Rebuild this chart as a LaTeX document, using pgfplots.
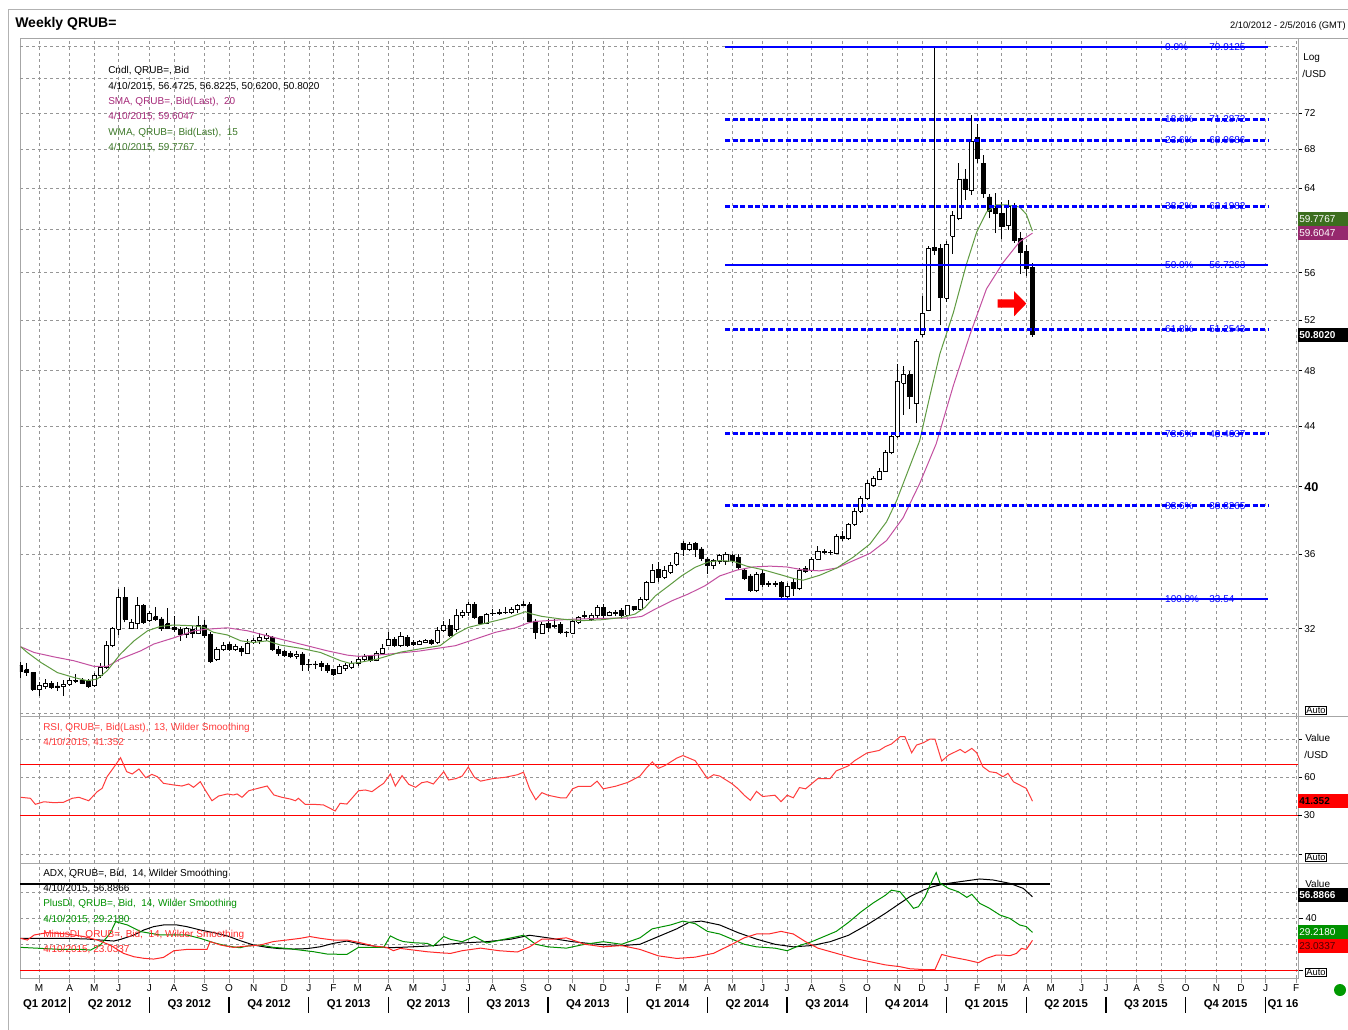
\documentclass[border=0pt]{standalone}
\usepackage{fontspec}
\setmainfont{Liberation Sans}
\usepackage{pgfplots}
\pgfplotsset{compat=1.18}
\definecolor{gridc}{RGB}{150,150,150}
\definecolor{smac}{RGB}{195,80,160}
\definecolor{smat}{RGB}{165,40,120}
\definecolor{smabox}{RGB}{150,40,110}
\definecolor{wmac}{RGB}{95,155,65}
\definecolor{wmat}{RGB}{60,120,40}
\definecolor{wmabox}{RGB}{60,110,30}
\definecolor{fibc}{RGB}{0,0,255}
\definecolor{rsic}{RGB}{255,60,60}
\definecolor{rline}{RGB}{255,0,0}
\definecolor{pdic}{RGB}{0,145,0}
\definecolor{mdic}{RGB}{255,40,40}
\newcommand{\lf}{\fontsize{7.5}{9}\selectfont}
\newcommand{\candle}[5]{%
  \pgfmathsetmacro\cxa{#1-0.33}%
  \pgfmathsetmacro\cxb{#1+0.33}%
  \addplot[black, line width=0.6pt, forget plot] coordinates {(#1,#4) (#1,#3)};%
  \ifdim #5pt<#2pt
    \addplot[draw=black, fill=black, line width=0.5pt, forget plot] coordinates {(\cxa,#2) (\cxb,#2) (\cxb,#5) (\cxa,#5) (\cxa,#2)};%
  \else
    \addplot[draw=black, fill=white, line width=0.5pt, forget plot] coordinates {(\cxa,#2) (\cxb,#2) (\cxb,#5) (\cxa,#5) (\cxa,#2)};%
  \fi
}
\pgfplotsset{
  panel/.style={scale only axis, width=958.5pt, xmin=-0.1, xmax=208.3,
    xtick={3,8,12,16,21,25,30,34,38,43,47,51,55,60,64,69,73,77,82,86,90,95,99,104,108,112,116,121,125,129,134,138,143,147,151,156,160,164,168,173,177,182,186,190,195,199,203,208},
    xmajorgrids, ymajorgrids,
    grid style={gridc, dash pattern=on 2.25pt off 2.25pt, line width=0.5pt},
    axis line style={draw=gray!70, line width=0.6pt},
    ytick pos=right, yticklabel pos=right, tick align=outside,
    major tick length=3pt,
    ytick style={black, line width=0.5pt},
    tick label style={font=\lf, black},
    yticklabel style={inner xsep=1.5pt},
  },
  nox/.style={xtick style={draw=none}, xticklabels={}},
}
\begin{document}
\begin{tikzpicture}
\path[use as bounding box] (0,0) rectangle (1011pt,-772.5pt);
\fill[white] (0,0) rectangle (1011pt,-772.5pt);

% ================= MAIN PRICE PANEL =================
\begin{axis}[panel, nox, at={(15pt,-28.5pt)}, anchor=north west, height=508.5pt,
  ymode=log, ymin=27.9, ymax=81.0,
  ytick={32,36,40,44,48,52,56,64,68,72},
  yticklabels={32,36,{\bfseries\fontsize{9.5}{10}\selectfont 40},44,48,52,56,64,68,72},
  extra y ticks={28,60,76,80}, extra y tick labels={}, extra y tick style={major tick length=0pt}]
\candle{0}{30.22}{30.35}{29.64}{29.95}
\candle{1}{30.00}{30.32}{29.72}{29.87}
\candle{2}{29.87}{29.90}{29.02}{29.10}
\candle{3}{29.10}{29.41}{28.79}{29.28}
\candle{4}{29.25}{29.57}{29.13}{29.38}
\candle{5}{29.36}{29.49}{29.10}{29.17}
\candle{6}{29.25}{29.41}{29.02}{29.17}
\candle{7}{29.22}{29.53}{28.79}{29.33}
\candle{8}{29.33}{29.64}{29.25}{29.52}
\candle{9}{29.47}{29.80}{29.38}{29.52}
\candle{10}{29.53}{29.64}{29.33}{29.38}
\candle{11}{29.44}{29.57}{29.17}{29.25}
\candle{12}{29.28}{29.87}{29.22}{29.75}
\candle{13}{29.72}{30.32}{29.64}{30.14}
\candle{14}{30.14}{31.40}{30.03}{31.16}
\candle{15}{31.16}{32.07}{31.08}{32.02}
\candle{16}{31.98}{34.07}{31.69}{33.62}
\candle{17}{33.62}{34.15}{32.33}{32.50}
\candle{18}{32.04}{32.50}{31.98}{32.33}
\candle{19}{32.30}{33.62}{31.98}{33.18}
\candle{20}{33.18}{33.27}{32.25}{32.33}
\candle{21}{32.41}{32.92}{32.33}{32.80}
\candle{22}{32.61}{33.09}{32.41}{32.50}
\candle{23}{32.50}{32.58}{31.90}{32.02}
\candle{24}{32.25}{33.04}{31.98}{32.02}
\candle{25}{32.07}{32.66}{31.82}{31.95}
\candle{26}{31.98}{32.07}{31.40}{31.73}
\candle{27}{31.73}{32.07}{31.55}{32.02}
\candle{28}{31.98}{32.15}{31.55}{31.78}
\candle{29}{31.78}{32.63}{31.73}{32.15}
\candle{30}{32.19}{32.45}{31.55}{31.65}
\candle{31}{31.73}{31.82}{30.32}{30.38}
\candle{32}{30.52}{31.08}{30.43}{30.96}
\candle{33}{31.00}{31.32}{30.91}{31.19}
\candle{34}{31.24}{31.32}{30.91}{31.00}
\candle{35}{31.00}{31.24}{30.91}{31.12}
\candle{36}{31.04}{31.16}{30.64}{30.87}
\candle{37}{30.80}{31.48}{30.76}{31.27}
\candle{38}{31.32}{31.55}{31.24}{31.40}
\candle{39}{31.40}{31.78}{31.24}{31.55}
\candle{40}{31.50}{31.78}{31.40}{31.65}
\candle{41}{31.59}{31.65}{30.91}{31.00}
\candle{42}{30.96}{31.13}{30.67}{30.80}
\candle{43}{30.87}{30.96}{30.59}{30.70}
\candle{44}{30.80}{30.91}{30.55}{30.64}
\candle{45}{30.64}{30.91}{30.52}{30.76}
\candle{46}{30.76}{30.83}{29.95}{30.27}
\candle{47}{30.27}{30.52}{29.95}{30.28}
\candle{48}{30.28}{30.43}{30.03}{30.26}
\candle{49}{30.32}{30.43}{29.95}{30.16}
\candle{50}{30.22}{30.32}{29.87}{29.98}
\candle{51}{30.00}{30.06}{29.72}{29.80}
\candle{52}{29.84}{30.27}{29.80}{30.16}
\candle{53}{30.06}{30.32}{29.95}{30.19}
\candle{54}{30.12}{30.43}{30.03}{30.32}
\candle{55}{30.30}{30.60}{30.20}{30.50}
\candle{56}{30.50}{30.75}{30.40}{30.62}
\candle{57}{30.62}{30.70}{30.35}{30.45}
\candle{58}{30.45}{30.90}{30.40}{30.80}
\candle{59}{30.80}{31.25}{30.70}{31.05}
\candle{60}{31.16}{31.82}{31.13}{31.48}
\candle{61}{31.48}{31.60}{31.10}{31.16}
\candle{62}{31.16}{31.82}{31.10}{31.62}
\candle{63}{31.57}{31.70}{31.10}{31.19}
\candle{64}{31.32}{31.45}{31.15}{31.24}
\candle{65}{31.24}{31.45}{31.20}{31.35}
\candle{66}{31.32}{31.50}{31.28}{31.43}
\candle{67}{31.40}{31.50}{31.20}{31.29}
\candle{68}{31.32}{32.07}{31.24}{31.90}
\candle{69}{31.90}{32.40}{31.85}{32.18}
\candle{70}{32.18}{32.49}{31.57}{31.65}
\candle{71}{31.98}{33.01}{31.82}{32.69}
\candle{72}{32.69}{32.97}{32.57}{32.83}
\candle{73}{32.83}{33.35}{32.66}{33.26}
\candle{74}{33.26}{33.35}{32.49}{32.57}
\candle{75}{32.61}{32.66}{32.23}{32.29}
\candle{76}{32.29}{32.83}{32.23}{32.74}
\candle{77}{32.78}{33.01}{32.66}{32.80}
\candle{78}{32.80}{33.01}{32.69}{32.83}
\candle{79}{32.83}{33.09}{32.74}{32.86}
\candle{80}{32.83}{33.09}{32.74}{32.97}
\candle{81}{32.97}{33.26}{32.83}{33.21}
\candle{82}{33.21}{33.44}{33.18}{33.23}
\candle{83}{33.23}{33.35}{32.32}{32.40}
\candle{84}{32.40}{32.49}{31.48}{31.82}
\candle{85}{31.79}{32.32}{31.73}{32.23}
\candle{86}{32.29}{32.49}{31.82}{32.06}
\candle{87}{32.13}{32.49}{32.06}{32.15}
\candle{88}{32.23}{32.32}{31.73}{31.82}
\candle{89}{31.84}{31.90}{31.57}{31.82}
\candle{90}{31.77}{32.49}{31.73}{32.40}
\candle{91}{32.32}{32.66}{32.23}{32.57}
\candle{92}{32.64}{32.91}{32.49}{32.66}
\candle{93}{32.49}{32.83}{32.40}{32.71}
\candle{94}{32.66}{33.21}{32.57}{33.09}
\candle{95}{33.09}{33.26}{32.57}{32.69}
\candle{96}{32.69}{32.91}{32.63}{32.86}
\candle{97}{32.81}{32.97}{32.66}{32.83}
\candle{98}{32.95}{33.04}{32.49}{32.66}
\candle{99}{32.69}{33.21}{32.66}{33.18}
\candle{100}{33.14}{33.18}{32.91}{32.97}
\candle{101}{32.97}{33.62}{32.91}{33.53}
\candle{102}{33.53}{34.51}{33.44}{34.42}
\candle{103}{34.42}{35.43}{34.38}{35.10}
\candle{104}{35.12}{35.57}{34.42}{34.69}
\candle{105}{34.69}{35.34}{34.60}{35.06}
\candle{106}{34.97}{35.53}{34.88}{35.38}
\candle{107}{35.43}{36.09}{35.34}{36.03}
\candle{108}{36.62}{36.76}{35.90}{36.28}
\candle{109}{36.28}{36.66}{36.19}{36.56}
\candle{110}{36.62}{36.70}{35.81}{36.28}
\candle{111}{36.28}{36.38}{35.62}{35.76}
\candle{112}{35.72}{35.81}{34.88}{35.34}
\candle{113}{35.34}{35.72}{35.16}{35.62}
\candle{114}{35.58}{36.00}{35.43}{35.90}
\candle{115}{35.56}{36.10}{35.40}{35.97}
\candle{116}{35.93}{36.00}{35.50}{35.62}
\candle{117}{35.82}{36.00}{35.10}{35.22}
\candle{118}{35.11}{35.20}{34.55}{34.64}
\candle{119}{34.77}{34.90}{33.90}{34.02}
\candle{120}{34.02}{35.00}{33.90}{34.85}
\candle{121}{34.90}{35.10}{34.20}{34.31}
\candle{122}{34.32}{34.50}{34.20}{34.36}
\candle{123}{34.36}{34.50}{34.20}{34.33}
\candle{124}{34.42}{34.50}{33.60}{33.67}
\candle{125}{33.67}{34.40}{33.55}{34.20}
\candle{126}{34.40}{34.65}{33.70}{34.10}
\candle{127}{34.12}{35.20}{34.00}{35.11}
\candle{128}{35.20}{35.30}{34.95}{35.05}
\candle{129}{35.11}{35.80}{35.00}{35.71}
\candle{130}{35.71}{36.45}{35.65}{36.12}
\candle{131}{36.10}{36.25}{35.98}{36.13}
\candle{132}{36.08}{36.20}{35.95}{36.06}
\candle{133}{36.05}{37.15}{35.98}{37.02}
\candle{134}{37.02}{37.30}{36.75}{36.90}
\candle{135}{36.90}{37.80}{36.80}{37.72}
\candle{136}{37.72}{38.70}{37.62}{38.50}
\candle{137}{38.50}{39.45}{38.40}{39.30}
\candle{138}{39.30}{40.40}{39.20}{40.20}
\candle{139}{40.10}{40.70}{40.00}{40.55}
\candle{140}{40.50}{41.20}{40.40}{41.00}
\candle{141}{41.00}{42.35}{40.95}{42.20}
\candle{142}{42.20}{43.60}{42.10}{43.30}
\candle{143}{43.30}{48.50}{43.20}{47.20}
\candle{144}{47.10}{48.40}{44.80}{47.70}
\candle{145}{47.70}{48.00}{45.20}{46.10}
\candle{146}{45.60}{50.50}{44.20}{50.28}
\candle{147}{50.86}{54.00}{50.60}{52.51}
\candle{148}{52.80}{58.40}{52.70}{58.20}
\candle{149}{58.30}{79.91}{57.60}{58.00}
\candle{150}{58.20}{58.60}{51.55}{53.90}
\candle{151}{53.80}{58.90}{53.50}{58.60}
\candle{152}{59.30}{61.70}{57.70}{61.30}
\candle{153}{61.00}{66.60}{60.80}{64.90}
\candle{154}{64.90}{65.90}{62.80}{63.90}
\candle{155}{63.80}{71.80}{63.30}{68.90}
\candle{156}{69.30}{70.80}{66.60}{67.05}
\candle{157}{66.50}{67.40}{63.00}{63.40}
\candle{158}{63.10}{63.40}{61.00}{61.70}
\candle{159}{62.00}{63.50}{59.60}{61.50}
\candle{160}{61.50}{62.60}{59.10}{60.25}
\candle{161}{60.30}{62.80}{59.90}{62.20}
\candle{162}{62.20}{62.50}{58.70}{58.95}
\candle{163}{59.10}{59.70}{55.90}{57.80}
\candle{164}{57.90}{58.50}{55.70}{56.40}
\candle{165}{56.4725}{56.8225}{50.62}{50.802}
% SMA 20
\addplot[smac, line width=0.75pt, forget plot] coordinates {(0,31.11)(2.2,30.83)(5.4,30.62)(8.7,30.43)(12,30.16)(14.1,30.16)(16.3,30.52)(19.6,30.91)(21.7,31.24)(25,31.55)(28.3,31.90)(30.4,31.98)(33.7,32.05)(37,31.90)(40.2,31.65)(43.5,31.40)(46.7,31.16)(50,30.91)(53.3,30.70)(55.2,30.64)(60,30.75)(65,30.90)(70.9,31.16)(74.1,31.48)(77.4,31.82)(80.7,32.05)(82.8,32.30)(83.9,32.37)(87.2,32.44)(90.4,32.49)(93.7,32.52)(97,32.54)(99.1,32.54)(101.3,32.63)(103.5,33.01)(106.2,33.44)(108.9,33.80)(111.6,34.24)(114,34.77)(116.8,35.09)(119.5,35.27)(122.2,35.31)(124.9,35.27)(127.6,35.11)(130.3,35.05)(133.1,35.21)(135.8,35.62)(138.5,36.03)(141.2,36.76)(143.9,38.1)(146.6,40.2)(149.3,42.8)(152.1,46.9)(154.8,50.8)(157.5,54.6)(160.2,56.9)(162.9,58.8)(165,59.60)};
% WMA 15
\addplot[wmac, line width=0.75pt, forget plot] coordinates {(0,31.11)(1.1,30.83)(3.3,30.35)(6,29.87)(8.7,29.64)(10.9,29.49)(12.5,29.57)(14.1,29.95)(16.3,30.76)(18.5,31.40)(20.7,31.90)(22.8,32.12)(25,32.19)(28.3,32.15)(29.9,32.07)(31.5,31.82)(33.7,31.69)(35.9,31.40)(38,31.32)(40.2,31.40)(42.4,31.19)(45.7,31.03)(48.9,30.83)(52.2,30.43)(53.8,30.30)(55.2,30.35)(58,30.50)(62,30.85)(65,31.0)(68.4,31.16)(70.9,31.73)(73,32.07)(76.3,32.32)(79.6,32.57)(82.3,32.87)(83.4,32.75)(85,32.63)(88.3,32.49)(91.5,32.41)(94.8,32.46)(98,32.57)(100.2,32.75)(101.8,33.09)(103.5,33.70)(105.7,34.24)(107.8,34.78)(110,35.25)(112.2,35.55)(114,35.62)(116.2,35.58)(118.4,35.31)(121.1,35.11)(123.8,34.85)(126,34.64)(127.6,34.54)(130.3,34.81)(133.1,35.21)(135.8,35.82)(138.5,36.56)(141.2,37.86)(142.8,39.1)(144.5,40.8)(146.6,43.0)(148.3,46.2)(149.9,49.3)(152.1,52.6)(154.2,56.7)(155.9,59.7)(157.5,61.6)(159.1,62.3)(160.8,62.3)(162.9,62.1)(164,61.4)(165,59.78)};
% Fibonacci levels
\addplot[fibc, line width=1.5pt, forget plot] coordinates {(114.9,79.9125)(203.4,79.9125)};
\addplot[fibc, line width=2.25pt, dash pattern=on 3.75pt off 1.9pt, forget plot] coordinates {(114.9,71.2872)(203.4,71.2872)};
\addplot[fibc, line width=2.25pt, dash pattern=on 3.75pt off 1.9pt, forget plot] coordinates {(114.9,68.9686)(203.4,68.9686)};
\addplot[fibc, line width=2.25pt, dash pattern=on 3.75pt off 1.9pt, forget plot] coordinates {(114.9,62.1982)(203.4,62.1982)};
\addplot[fibc, line width=1.5pt, forget plot] coordinates {(114.9,56.7263)(203.4,56.7263)};
\addplot[fibc, line width=2.25pt, dash pattern=on 3.75pt off 1.9pt, forget plot] coordinates {(114.9,51.2543)(203.4,51.2543)};
\addplot[fibc, line width=2.25pt, dash pattern=on 3.75pt off 1.9pt, forget plot] coordinates {(114.9,43.4637)(203.4,43.4637)};
\addplot[fibc, line width=2.25pt, dash pattern=on 3.75pt off 1.9pt, forget plot] coordinates {(114.9,38.8265)(203.4,38.8265)};
\addplot[fibc, line width=1.5pt, forget plot] coordinates {(114.9,33.54)(203.4,33.54)};
\foreach \v/\p/\t in {79.9125/0.0/79.9125, 71.2872/18.6/71.2872, 68.9686/23.6/68.9686, 62.1982/38.2/62.1982, 56.7263/50.0/56.7263, 51.2543/61.8/51.2543, 43.4637/78.6/43.4637, 38.8265/88.6/38.8265, 33.54/100.0/33.54}{
  \edef\tmp{\noexpand\node[anchor=west, inner sep=0pt, text=fibc, font=\noexpand\lf] at (axis cs:186.6,\v) {\p\noexpand\%};
  \noexpand\node[anchor=west, inner sep=0pt, text=fibc, font=\noexpand\lf] at (axis cs:193.8,\v) {\t};}\tmp
}
% red arrow
\addplot[fill=red, draw=none, forget plot] coordinates {(159.3,53.70)(162,53.70)(162,54.40)(164.0,53.35)(162,52.30)(162,53.02)(159.3,53.02)(159.3,53.70)};
\end{axis}

% ================= RSI PANEL =================
\begin{axis}[panel, nox, at={(15pt,-537pt)}, anchor=north west, height=110.25pt,
  ymin=-6.95, ymax=107.9,
  ytick={0,60,90}, yticklabels={,60,}]
\addplot[rline, line width=0.75pt, forget plot] coordinates {(-0.1,70)(208.3,70)};
\addplot[rline, line width=1pt, forget plot] coordinates {(-0.1,30.3)(208.3,30.3)};
\addplot[rsic, line width=0.75pt, forget plot] coordinates {(0,44.4)(1.6,43.6)(2.4,38.9)(3.8,40.9)(5.4,40.2)(7,40.5)(8.4,43.6)(9.5,44.4)(11.1,41.7)(12.5,48.8)(13.3,51.4)(14.1,60.5)(15.2,67.8)(16.3,75.3)(17.3,64.4)(18.2,62.6)(19.3,66.5)(20.4,59.7)(21.4,62.3)(22.3,60.5)(23.3,55.3)(25,54.0)(26.3,53.2)(27.4,54.8)(28.2,52.2)(29.3,56.6)(30.1,50.1)(31.2,41.7)(32.3,45.4)(33.7,47.0)(34.7,46.2)(35.3,47.0)(36.1,44.4)(37.2,49.5)(38.3,50.9)(40.2,53.2)(41.3,46.2)(42.6,44.4)(44,43.0)(44.8,41.7)(45.3,43.6)(46.4,38.9)(47.8,38.9)(49.4,38.4)(51.3,33.7)(52.1,39.7)(53.2,39.1)(55.1,49.5)(56.2,50.1)(57.3,48.8)(58.4,52.7)(59.2,55.3)(60.3,62.6)(61.1,53.2)(62.2,61.3)(63.3,54.5)(64.4,52.2)(65.4,55.8)(66.3,56.6)(67.3,54.8)(69,64.4)(69.8,57.9)(71,59)(72,61)(73,68)(74,60)(75,57)(77,59)(79,60)(81,62)(82,64)(83,51)(84,42.5)(85,48)(86,46)(88,44)(89,44)(90,51)(91,53)(93,53)(94,57)(95,51)(97,53)(99,56)(101,61)(102,67)(103,72)(104,67)(105,69)(106,72)(107,75)(108,77)(109,75)(110,73)(111,66)(112,59)(113,62)(114,61)(116,55)(117,51)(118,46)(119,42)(120,49)(121,45)(123,46)(124,41)(125,46)(126,44)(127,52)(128,51)(129,55)(130,59)(132,59)(133,65)(135,69)(136,73)(137,76)(138,79)(139,80)(140,81)(141,84)(142,86)(143.4,91.7)(144.2,91.7)(145.3,79.2)(146.1,85.2)(147.2,87.0)(148.3,89.9)(149.1,89.9)(150.2,72.7)(151.3,77.3)(153.2,81.8)(154,79.2)(155.1,82.6)(155.9,79.2)(156.9,68.3)(158,64.4)(159.1,63.6)(160.2,60.5)(161,63.1)(161.9,56.5)(164,51.3)(165,41.35)};
\end{axis}

% ================= ADX PANEL =================
\begin{axis}[panel, at={(15pt,-647.25pt)}, anchor=north west, height=86.25pt,
  ymin=-6.2, ymax=83.1, xtick pos=bottom, xtick style={gridc, line width=0.5pt},
  major tick length=4pt,
  xticklabels={M,A,M,J,J,A,S,O,N,D,J,F,M,A,M,J,J,A,S,O,N,D,J,F,M,A,M,J,J,A,S,O,N,D,J,F,M,A,M,J,J,A,S,O,N,D,J,F},
  xticklabel style={inner sep=1pt},
  ytick={0,20,40,60}, yticklabels={,,40,}]
\addplot[rline, line width=0.75pt, forget plot] coordinates {(-0.1,0)(208.3,0)};
\addplot[black, line width=1.5pt, forget plot] coordinates {(-0.1,66.8)(167.9,66.8)};
\addplot[black, line width=0.75pt, forget plot] coordinates {(0,24.6)(3.8,24.6)(7.6,24.6)(10.8,24.1)(13,23.3)(15.2,22.5)(16.3,23.8)(18.5,27.2)(20.1,31.1)(21.7,33.7)(23.3,35.0)(25.5,35.0)(27.1,33.7)(29.3,31.1)(31.5,29.0)(33.7,26.5)(35.8,22.8)(38,19.4)(40.2,17.6)(42.3,16.6)(44.5,16.3)(46.7,16.6)(48.9,18.1)(51,20.7)(53.2,22.5)(55.4,20.2)(57.6,18.6)(59.7,17.3)(61.9,17.6)(64.1,18.1)(66.3,18.6)(68.4,19.4)(70.1,20.2)(72,21)(76,22)(80,24)(83,27)(86,25)(90,22)(94,20)(98,19)(101,20)(104,26)(107,32)(109,37)(111,38)(114,35)(117,29)(120,24)(123,20)(126,18)(129,19)(132,22)(135,27)(138,35)(141,44)(143.4,51.8)(145,56.9)(147.2,62.1)(148.8,64.7)(150.5,66.8)(153.2,68.6)(156.4,70.7)(158.6,69.9)(161.3,67.3)(163.5,63.4)(165,56.89)};
\addplot[pdic, line width=0.75pt, forget plot] coordinates {(0,17.6)(3.3,16.8)(6.5,16.0)(9.8,16.0)(11.4,15.5)(13,19.4)(14.6,28.5)(15.5,37.5)(17.4,35.0)(19.6,29.8)(22.8,27.2)(27.1,27.2)(29.3,24.6)(31.5,21.2)(33.7,18.6)(35.8,17.3)(36.9,18.6)(39.1,19.4)(41.2,17.6)(43.4,16.8)(45.6,15.5)(47.8,14.2)(50,12.4)(53.2,12.1)(55.1,17.6)(57,17.6)(59.2,17.6)(60.3,26.5)(61.4,23.8)(62.4,22.1)(64.1,21.2)(66.3,20.7)(67.3,18.6)(69,26.0)(70.1,23.8)(72,22)(74,26)(76,21)(79,24)(82,27)(84,20)(86,18)(89,17)(92,20)(95,22)(98,20)(101,25)(103,32)(106,35)(108,38)(110,36)(112,30)(114,28)(116,24)(118,20)(120,18)(123,17)(125,15)(127,19)(129,22)(131,26)(133,30)(135,37)(137,45)(139,52)(141,58)(142,62)(143.4,60.8)(144.5,54.4)(145.6,47.9)(146.4,49.2)(147.5,56.9)(148.3,66.0)(149.3,75.6)(149.9,67.6)(151.3,63.4)(152.9,60.8)(154.3,56.4)(155.1,58.8)(156.4,51.8)(158,47.9)(159.7,42.7)(161.3,40.1)(162.9,35.0)(164,33.7)(165,29.22)};
\addplot[mdic, line width=0.75pt, forget plot] coordinates {(0,24.6)(1.1,23.3)(2.2,27.2)(4.3,29.0)(7.6,28.0)(10.3,26.0)(12.5,23.3)(14.6,19.4)(16.8,12.9)(18.5,10.3)(20.1,9.1)(21.7,8.5)(23.3,9.8)(25,15.0)(27.1,16.0)(29.3,16.0)(30.4,16.0)(30.9,22.1)(32.6,19.4)(34.7,17.6)(36.9,18.6)(39.1,19.4)(41.2,22.1)(43.4,23.3)(45.6,24.6)(47.2,26.0)(48.9,24.6)(51,23.3)(53.2,23.3)(55.4,21.2)(57.6,18.6)(59.7,17.6)(60.8,15.0)(61.9,16.8)(64.1,15.5)(66.3,14.2)(68.4,13.4)(70.1,12.9)(72,15)(75,17)(78,15)(81,14)(83,18)(85,24)(87,24)(89,25)(92,20)(95,18)(98,19)(101,16)(104,11)(107,9)(110,10)(113,13)(116,20)(118,25)(120,28)(122,28)(124,30)(126,28)(128,22)(130,17)(133,13)(136,9)(139,6)(141,4)(143.4,2.6)(145,1.0)(147.5,0.3)(149.1,0.3)(150.2,12.1)(151.6,10.3)(154.3,7.8)(156.2,5.7)(157.5,9.1)(159.1,11.6)(160.2,11.6)(161.3,11.1)(162.4,12.9)(163.2,16.8)(164,16.0)(165,23.03)};
\end{axis}

% ================= DECORATIONS (pixel grid) =================
\begin{scope}[x=0.75pt, y=-0.75pt]
\draw[gray!60, line width=0.75pt] (8,10) -- (1348,10);
\draw[gray!60, line width=0.75pt] (8,10) -- (8,1030);
\draw[gray!70, line width=0.6pt] (1298,38) -- (1348,38);
\draw[gray!70, line width=0.6pt] (1298,716) -- (1348,716);
\draw[gray!70, line width=0.6pt] (1298,863) -- (1348,863);
% RSI 30 tick and label
\draw[black, line width=0.5pt] (1298,815.3) -- (1302,815.3);
\node[anchor=west, inner sep=0pt, font=\lf] at (1303.5,815.3) {30};
\node[anchor=west, inner sep=0pt, font=\bfseries\fontsize{10.5}{12}\selectfont] at (15,24) {Weekly QRUB=};
\node[anchor=east, inner sep=0pt, font=\fontsize{7}{8}\selectfont] at (1346,26) {2/10/2012 - 2/5/2016 (GMT)};
% main legend
\node[anchor=west, inner sep=0pt, font=\lf] at (108,71) {Cndl, QRUB=, Bid};
\node[anchor=west, inner sep=0pt, font=\lf] at (108,87) {4/10/2015, 56.4725, 56.8225, 50.6200, 50.8020};
\node[anchor=west, inner sep=0pt, font=\lf, text=smat] at (108,102) {SMA, QRUB=, Bid(Last),\ \ 20};
\node[anchor=west, inner sep=0pt, font=\lf, text=smat] at (108,117) {4/10/2015, 59.6047};
\node[anchor=west, inner sep=0pt, font=\lf, text=wmat] at (108,133) {WMA, QRUB=, Bid(Last),\ \ 15};
\node[anchor=west, inner sep=0pt, font=\lf, text=wmat] at (108,148) {4/10/2015, 59.7767};
% RSI legend
\node[anchor=west, inner sep=0pt, font=\lf, text=rsic] at (43,728) {RSI, QRUB=, Bid(Last),\ \ 13, Wilder Smoothing};
\node[anchor=west, inner sep=0pt, font=\lf, text=rsic] at (43,743) {4/10/2015, 41.352};
% ADX legend
\node[anchor=west, inner sep=0pt, font=\lf] at (43,874) {ADX, QRUB=, Bid,\ \ 14, Wilder Smoothing};
\node[anchor=west, inner sep=0pt, font=\lf] at (43,889) {4/10/2015, 56.8866};
\node[anchor=west, inner sep=0pt, font=\lf, text=pdic] at (43,904) {PlusDI, QRUB=, Bid,\ \ 14, Wilder Smoothing};
\node[anchor=west, inner sep=0pt, font=\lf, text=pdic] at (43,920) {4/10/2015, 29.2180};
\node[anchor=west, inner sep=0pt, font=\lf, text=mdic] at (43,935) {MinusDI, QRUB=, Bid,\ \ 14, Wilder Smoothing};
\node[anchor=west, inner sep=0pt, font=\lf, text=mdic] at (43,950) {4/10/2015, 23.0337};
% right side texts
\node[anchor=west, inner sep=0pt, font=\lf] at (1303,58) {Log};
\node[anchor=west, inner sep=0pt, font=\lf] at (1302,74) {/USD};
\node[anchor=west, inner sep=0pt, font=\lf] at (1305,738) {Value};
\node[anchor=west, inner sep=0pt, font=\lf] at (1304,755) {/USD};
\node[anchor=west, inner sep=0pt, font=\lf] at (1305,884) {Value};
\fill[wmabox] (1298,212.5) rectangle (1348,226.5);
\node[anchor=west, inner sep=0pt, font=\lf, text=white] at (1299,219.5) {59.7767};
\fill[smabox] (1298,226.5) rectangle (1348,240.5);
\node[anchor=west, inner sep=0pt, font=\lf, text=white] at (1299,233.5) {59.6047};
\fill[black] (1298,328) rectangle (1348,342);
\node[anchor=west, inner sep=0pt, font=\bfseries\lf, text=white] at (1299,335) {50.8020};
\fill[rline] (1298,794) rectangle (1348,808);
\node[anchor=west, inner sep=0pt, font=\bfseries\lf, text=black] at (1299,801) {41.352};
\fill[black] (1298,888) rectangle (1348,902);
\node[anchor=west, inner sep=0pt, font=\bfseries\lf, text=white] at (1299,895) {56.8866};
\fill[pdic] (1298,925) rectangle (1348,939);
\node[anchor=west, inner sep=0pt, font=\lf, text=white] at (1299,932) {29.2180};
\fill[rline] (1298,939) rectangle (1348,953);
\node[anchor=west, inner sep=0pt, font=\lf, text=black!70!red] at (1299,946) {23.0337};
% Auto boxes
\node[draw=black, line width=0.5pt, inner sep=0.8pt, font=\fontsize{7}{8}\selectfont, anchor=south west] at (1305,715) {Auto};
\node[draw=black, line width=0.5pt, inner sep=0.8pt, font=\fontsize{7}{8}\selectfont, anchor=south west] at (1305,862) {Auto};
\node[draw=black, line width=0.5pt, inner sep=0.8pt, font=\fontsize{7}{8}\selectfont, anchor=south west] at (1305,977) {Auto};
% quarter labels
\foreach \xx/\qq in {44.9/Q1 2012, 109.6/Q2 2012, 189.3/Q3 2012, 269/Q4 2012, 348.7/Q1 2013, 428.4/Q2 2013, 508.1/Q3 2013, 587.9/Q4 2013, 667.6/Q1 2014, 747.3/Q2 2014, 827/Q3 2014, 906.7/Q4 2014, 986.4/Q1 2015, 1066.1/Q2 2015, 1145.9/Q3 2015, 1225.6/Q4 2015, 1283/Q1 16}{
  \node[font=\bfseries\fontsize{8.5}{10}\selectfont, inner sep=0pt] at (\xx,1005) {\qq};
}
\foreach \xx in {69.7,149.4,229.1,308.8,388.5,468.2,548.0,627.7,707.4,787.1,866.8,946.5,1026.2,1106.0,1185.7,1265.4}{
  \draw[black, line width=1pt] (\xx,997) -- (\xx,1013);
}
\fill[green!60!black] (1340,990) circle (4.5pt);
\end{scope}
\end{tikzpicture}
\end{document}
